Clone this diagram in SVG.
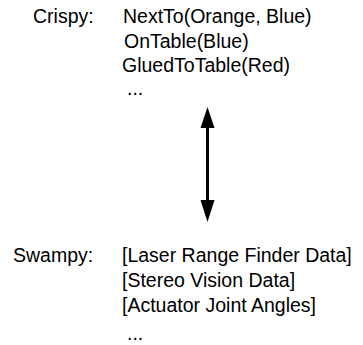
<svg xmlns="http://www.w3.org/2000/svg" width="363" height="345" viewBox="0 0 363 345">
<style>
text{font-family:"Liberation Sans",Arial,Helvetica,sans-serif;font-size:19.5px;fill:#000}
</style>
<rect width="363" height="345" fill="#fff"/>
<g id="crispy">
<text x="33" y="23">Crispy:</text>
<text x="123" y="23">NextTo(Orange, Blue)</text>
<text x="124" y="48">OnTable(Blue)</text>
<text x="122" y="72">GluedToTable(Red)</text>
<text x="127" y="95">...</text>
</g>
<g id="swampy">
<text x="13" y="262">Swampy:</text>
<text x="122" y="262">[Laser Range Finder Data]</text>
<text x="122" y="287">[Stereo Vision Data]</text>
<text x="122" y="312">[Actuator Joint Angles]</text>
<text x="127" y="340">...</text>
</g>
<g id="connectors">
<line x1="207.5" y1="125" x2="207.5" y2="202" stroke="#000" stroke-width="3"/>
<polygon points="207.5,107 200.5,128 214.5,128" fill="#000"/>
<polygon points="207.5,222 200.5,200 214.5,200" fill="#000"/>
</g>
</svg>
